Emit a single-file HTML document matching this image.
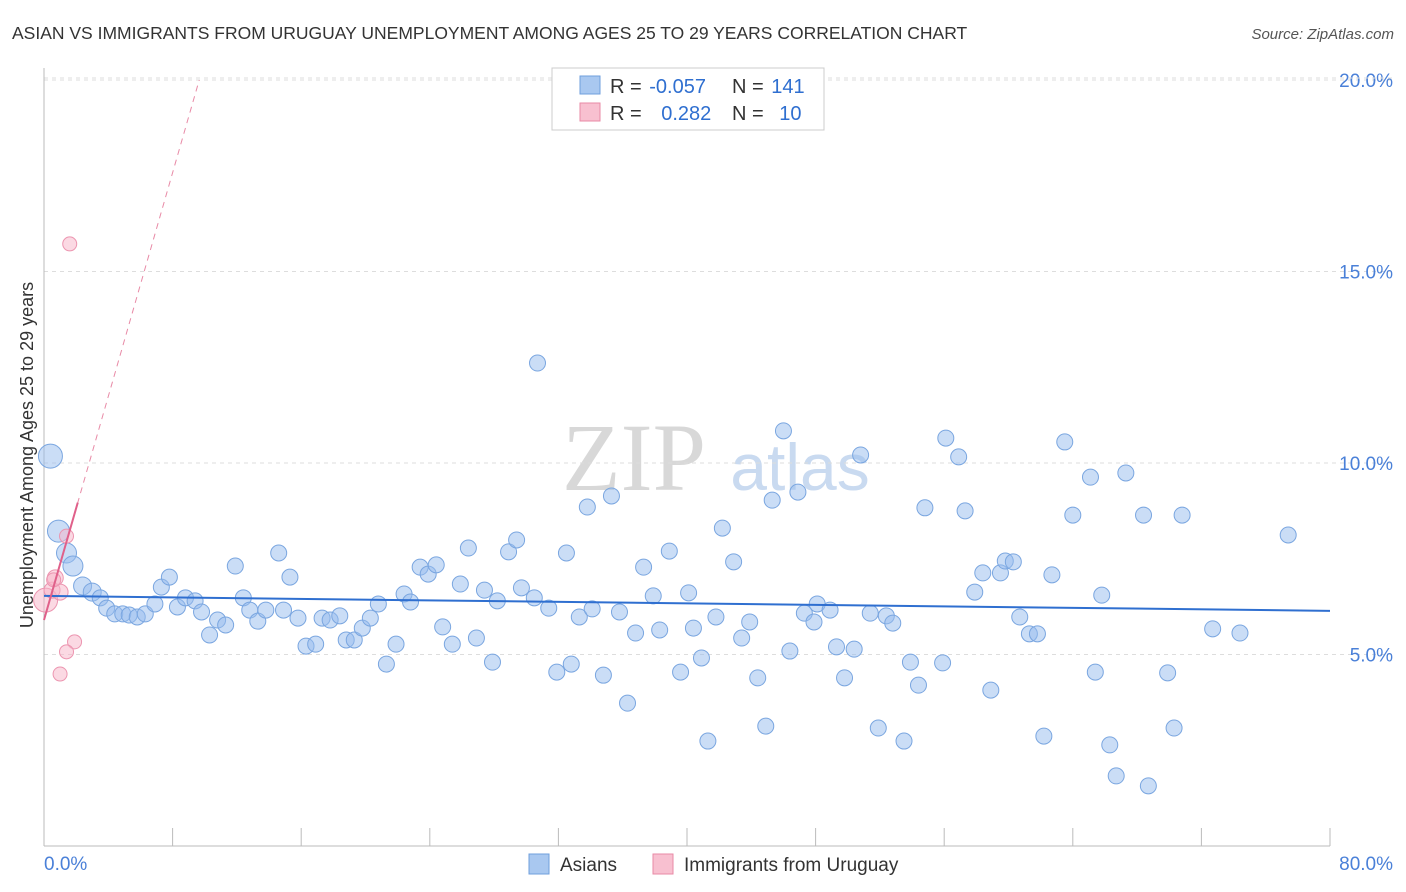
<!DOCTYPE html>
<html><head><meta charset="utf-8">
<style>
body{margin:0;background:#fff;font-family:"Liberation Sans",sans-serif;}
#wrap{position:relative;width:1406px;height:892px;overflow:hidden;}
</style></head>
<body>
<div id="wrap">
<svg id="chart" width="1406" height="892" xmlns="http://www.w3.org/2000/svg">
<text x="12" y="39" font-size="17.5" fill="#333">ASIAN VS IMMIGRANTS FROM URUGUAY UNEMPLOYMENT AMONG AGES 25 TO 29 YEARS CORRELATION CHART</text>
<text x="1394" y="39" font-size="15" fill="#555" text-anchor="end" font-style="italic">Source: ZipAtlas.com</text>
<text x="634" y="490" font-size="96" fill="#d8d8d8" text-anchor="middle" font-family="Liberation Serif,serif">ZIP</text>
<text x="800" y="490" font-size="66" fill="#c9daf0" text-anchor="middle">atlas</text>
<text x="33" y="455" font-size="18" fill="#333" text-anchor="middle" transform="rotate(-90 33 455)">Unemployment Among Ages 25 to 29 years</text>
<g id="grid"></g><g id="axes"></g><g id="pts"></g><g id="trends"></g>
<g>
<rect x="552" y="68" width="272" height="62" fill="#fff" stroke="#ccc"/>
<rect x="580" y="76" width="20" height="18" fill="#a9c8f0" stroke="#6f9fdc"/>
<rect x="580" y="103" width="20" height="18" fill="#f8c0d0" stroke="#e88aa6"/>
<text x="610" y="93" font-size="20" fill="#333">R = <tspan fill="#2f6fd0" dx="2">-0.057</tspan></text>
<text x="732" y="93" font-size="20" fill="#333">N = <tspan fill="#2f6fd0" dx="2">141</tspan></text>
<text x="610" y="120" font-size="20" fill="#333">R = <tspan fill="#2f6fd0" dx="14">0.282</tspan></text>
<text x="732" y="120" font-size="20" fill="#333">N = <tspan fill="#2f6fd0" dx="10">10</tspan></text>
</g>
<g>
<rect x="529" y="854" width="20" height="20" fill="#a9c8f0" stroke="#6f9fdc"/>
<text x="560" y="871" font-size="19" fill="#333">Asians</text>
<rect x="653" y="854" width="20" height="20" fill="#f8c0d0" stroke="#e88aa6"/>
<text x="684" y="871" font-size="19" fill="#333">Immigrants from Uruguay</text>
</g>
</svg>
</div>
<script>
const xTicks=[0,80];
const yTicks=[5,10,15,20];
const asianX=[0.4,0.9,1.4,1.8,2.4,3.0,3.5,3.9,4.4,4.9,5.3,5.8,6.3,6.9,7.3,7.8,8.3,8.8,9.4,9.8,10.3,10.8,11.3,11.9,12.4,12.8,13.3,13.8,14.6,14.9,15.3,15.8,16.3,16.9,17.3,17.8,18.4,18.8,19.3,19.8,20.3,20.8,21.3,21.9,22.4,22.8,23.4,23.9,24.4,24.8,25.4,25.9,26.4,26.9,27.4,27.9,28.2,28.9,29.4,29.7,30.5,30.7,31.4,31.9,32.5,32.8,33.3,33.8,34.1,34.8,35.3,35.8,36.3,36.8,37.3,37.9,38.3,38.9,39.6,40.1,40.4,40.9,41.3,41.8,42.2,42.9,43.4,43.9,44.4,44.9,45.3,46.0,46.4,46.9,47.3,47.9,48.1,48.9,49.3,49.8,50.4,50.8,51.4,51.9,52.4,52.8,53.5,53.9,54.4,54.8,55.9,56.1,56.9,57.3,57.9,58.4,58.9,59.5,59.8,60.3,60.7,61.3,61.8,62.2,62.7,63.5,64.0,65.1,65.4,65.8,66.3,66.7,67.3,68.4,68.7,69.9,70.3,70.8,72.7,74.4,77.4];
const asianY=[10.18,8.22,7.65,7.31,6.79,6.63,6.48,6.21,6.06,6.06,6.03,5.98,6.06,6.32,6.76,7.02,6.24,6.48,6.40,6.11,5.51,5.90,5.77,7.31,6.48,6.16,5.87,6.16,7.65,6.16,7.02,5.95,5.22,5.27,5.95,5.90,6.01,5.38,5.38,5.69,5.95,6.32,4.75,5.27,6.58,6.37,7.28,7.10,7.34,5.72,5.27,6.84,7.78,5.43,6.68,4.80,6.40,7.68,7.99,6.74,6.48,12.61,6.21,4.54,7.65,4.75,5.98,8.85,6.19,4.46,9.14,6.11,3.73,5.56,7.28,6.53,5.64,7.70,4.54,6.61,5.69,4.91,2.74,5.98,8.30,7.42,5.43,5.85,4.39,3.13,9.03,10.84,5.09,9.24,6.08,5.85,6.32,6.16,5.20,4.39,5.14,10.21,6.08,3.08,6.01,5.82,2.74,4.80,4.20,8.83,4.78,10.65,10.16,8.75,6.63,7.13,4.07,7.13,7.44,7.42,5.98,5.54,5.54,2.87,7.08,10.55,8.64,9.63,4.54,6.55,2.64,1.83,9.74,8.64,1.57,4.52,3.08,8.64,5.67,5.56,8.12];
const asianSize=[12,11,10,10,9,9,8,8,8,8,8,8,8,8,8];
const uruX=[0.1,0.5,0.7,1.0,1.4,1.6,1.9,1.4,1.0,0.6];
const uruY=[6.42,6.68,7.0,6.63,8.09,15.72,5.33,5.07,4.49,6.95];
const uruSize=[12,8,8,8,7,7,7,7,7,7];
const asianTrend=[6.53,6.14];
const uruTrend=[5.90,1.46];

const NS="http://www.w3.org/2000/svg";
const X=v=>44+v*16.075;
const Y=v=>846-v*38.3;
function mk(tag,attrs,parent){const e=document.createElementNS(NS,tag);for(const k in attrs)e.setAttribute(k,attrs[k]);document.getElementById(parent).appendChild(e);return e;}
yTicks.forEach(t=>{
 const l=mk('line',{x1:44,x2:1394,y1:Y(t),y2:Y(t),stroke:'#ddd','stroke-dasharray':'4,4'},'grid');
 
 
 const tx=mk('text',{x:1393,y:Y(t)+7,'font-size':19,fill:'#4a80d8','text-anchor':'end'},'grid');
 tx.textContent=t.toFixed(1)+'%';
 
 
});
const topLine=mk('line',{x1:44,x2:1394,y1:78,y2:78,stroke:'#ddd','stroke-dasharray':'4,4'},'grid');


const xa=mk('line',{x1:44,x2:1330,y1:846,y2:846,stroke:'#bbb'},'axes');


const ya=mk('line',{x1:44,x2:44,y1:68,y2:846,stroke:'#bbb'},'axes');


for(let i=0;i<=10;i++){
 const t=mk('line',{x1:X(i*8),x2:X(i*8),y1:828,y2:846,stroke:'#bbb'},'axes');
 
 
}
xTicks.forEach((t,i)=>{
 const tx=mk('text',{x:i?1393:44,y:870,'font-size':19,fill:'#4a80d8','text-anchor':i?'end':'start'},'axes');
 tx.textContent=t.toFixed(1)+'%';
 
 
});
asianX.forEach((v,i)=>{
 const c=mk('circle',{cx:X(v),cy:Y(asianY[i]),r:asianSize[i]||8,fill:'rgba(150,188,238,0.5)',stroke:'#7aa6e0','stroke-width':1},'pts');
 
 
});
uruX.forEach((v,i)=>{
 const c=mk('circle',{cx:X(v),cy:Y(uruY[i]),r:uruSize[i],fill:'rgba(248,180,200,0.5)',stroke:'#ec95b0','stroke-width':1},'pts');
 
 
});
const bt=mk('line',{x1:X(0),x2:X(80),y1:Y(asianTrend[0]),y2:Y(asianTrend[1]),stroke:'#2f6fd0','stroke-width':2},'trends');


const xe=(20-uruTrend[0])/uruTrend[1];
const pd=mk('line',{x1:X(0),x2:X(xe),y1:Y(uruTrend[0]),y2:Y(20),stroke:'#e88aa6','stroke-width':1,'stroke-dasharray':'6,5'},'trends');


const ps=mk('line',{x1:X(0),x2:X(2.1),y1:Y(uruTrend[0]),y2:Y(uruTrend[0]+uruTrend[1]*2.1),stroke:'#e0608a','stroke-width':2},'trends');


</script>
</body></html>
